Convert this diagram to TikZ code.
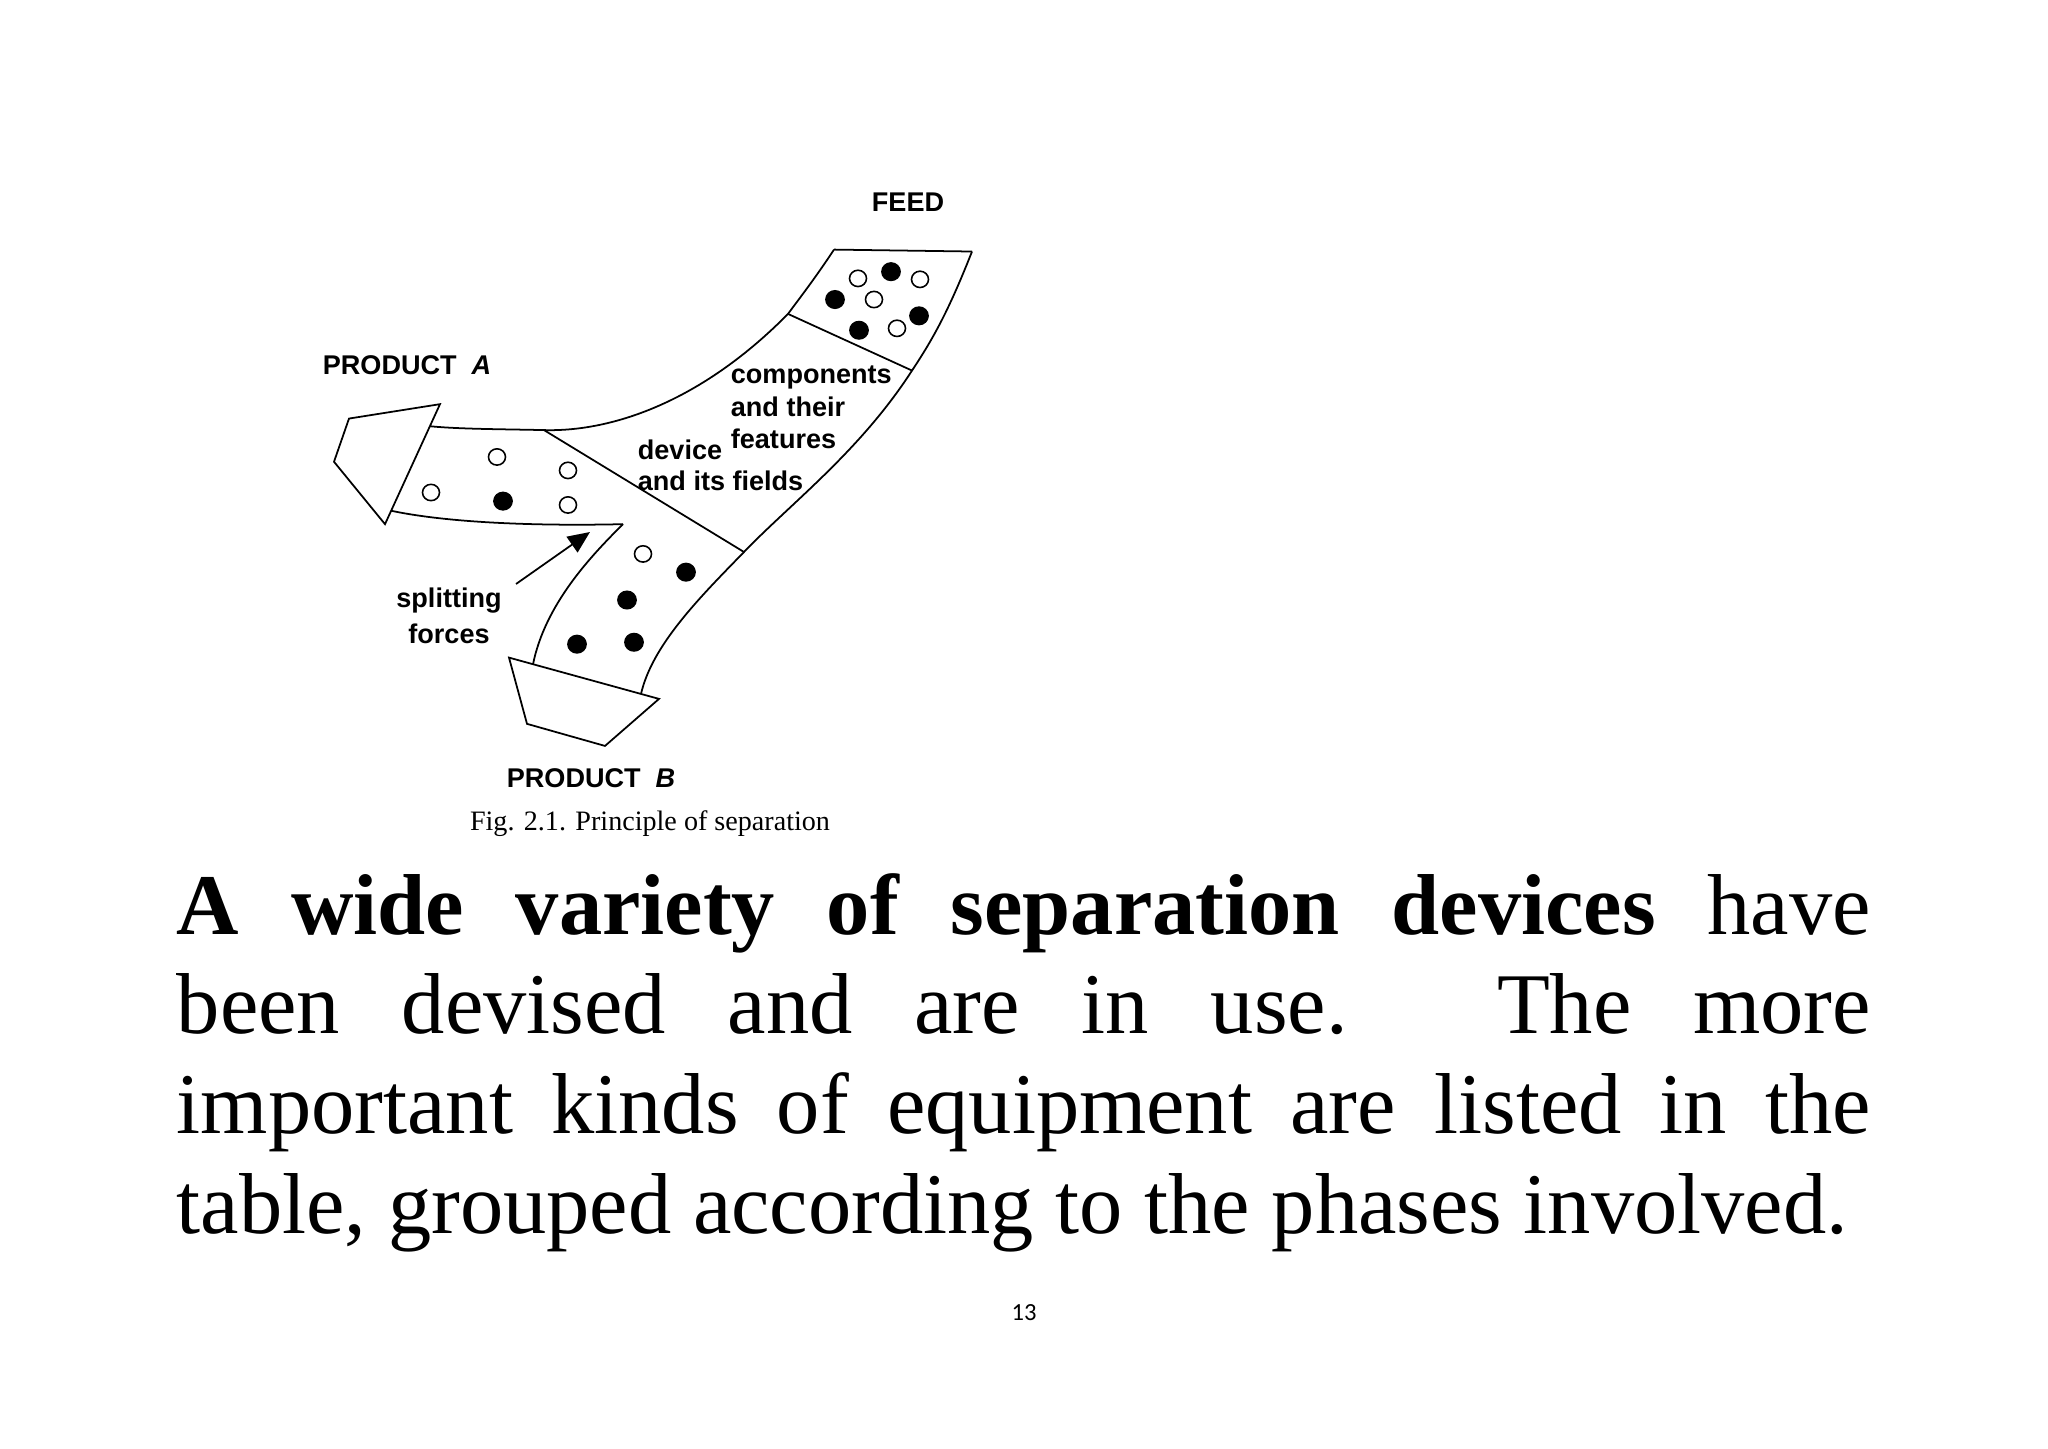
\documentclass[tikz,border=0pt]{standalone}
\usepackage{fontspec}
\setmainfont{Liberation Serif}
\setsansfont{Liberation Sans}
\newfontfamily\pagefont{Carlito}
\usetikzlibrary{arrows.meta}
\begin{document}
\begin{tikzpicture}[x=0.1mm,y=-0.1mm,line width=0.5pt,
  lbl/.style={font=\sffamily\bfseries\fontsize{7.7}{9}\selectfont,inner sep=0},
  od/.style={draw,fill=white,line width=0.45pt},
  fd/.style={draw,fill=black}]
\useasboundingbox[fill=white] (0,0) rectangle (2048,1448);
\begin{scope}[yscale=0.96,yshift=-1.0mm]
% band
\draw (834,250) -- (972,252);
\draw (972,252) .. controls (950,310) and (935,340) .. (912,376)
  .. controls (860,460) and (790,515) .. (744,565)
  .. controls (700,612) and (652,662) .. (641,713);
\draw (834,250) .. controls (815,280) and (800,300) .. (788,317)
  .. controls (700,410) and (610,440) .. (544,438)
  .. controls (500,437) and (460,437) .. (430,434);
\draw (788,317) -- (912,376);
\draw (544,438) -- (744,565);
\draw (440,411) -- (349,426) -- (334,471) -- (385,536) -- cycle;
\draw (391,522) .. controls (450,535) and (540,538) .. (623,536);
\draw (623,536) .. controls (590,570) and (545,620) .. (533,682);
\draw (509,675) -- (659,718) -- (605,767) -- (527,744) -- cycle;
% dots
\foreach \p in {(858,280),(920,281),(874,302),(897,332),(497,466),(568,480),(431,503),(568,516),(643,567)}
  \draw[od] \p circle (8.5);
\foreach \p in {(891,273),(835,302),(919,319),(859,334),(503,512),(686,586),(627,615),(577,661),(634,659)}
  \draw[fd] \p circle (9);
\end{scope}
% labels
\node[lbl] (feed) at (908,202) {FEED};
\node[lbl,anchor=west] (pa) at (322,365) {PRODUCT\ \ \textit{A}};
\node[lbl,anchor=west] (pb) at (506,778) {PRODUCT\ \ \textit{B}};
\node[lbl,anchor=west] (c1) at (730,377) {components};
\node[lbl,anchor=west] (c2) at (730,407) {and their};
\node[lbl,anchor=west] (c3) at (730,439) {features};
\node[lbl,anchor=west] (d1) at (637,450) {device};
\node[lbl,anchor=west] (d2) at (637,481) {and its fields};
\node[lbl,align=center,font=\sffamily\bfseries\fontsize{7.7}{10.2}\selectfont] (sf) at (449,616) {splitting\\forces};
\coordinate (as) at (516,584);
\coordinate (ae) at (590,532);
\draw[-{Triangle[length=2.2mm,width=1.9mm]}] (as) -- (ae);
\node[font=\fontsize{8}{9}\selectfont] (cap) at (650,824) {Fig. 2.1. Principle of separation};
\node[anchor=base west,inner sep=0,text width=169.4mm,align=justify,
  font=\fontsize{24.6}{28.4}\selectfont] (body) at (176,934)
  {\textbf{A wide variety of separation devices} have\linebreak been devised and are in use. The more\linebreak important kinds of equipment are listed in the\linebreak table, grouped according to the phases involved.};
\node[font=\pagefont\fontsize{7}{8}\selectfont] (pg) at (1024,1313) {13};
\end{tikzpicture}
\end{document}
